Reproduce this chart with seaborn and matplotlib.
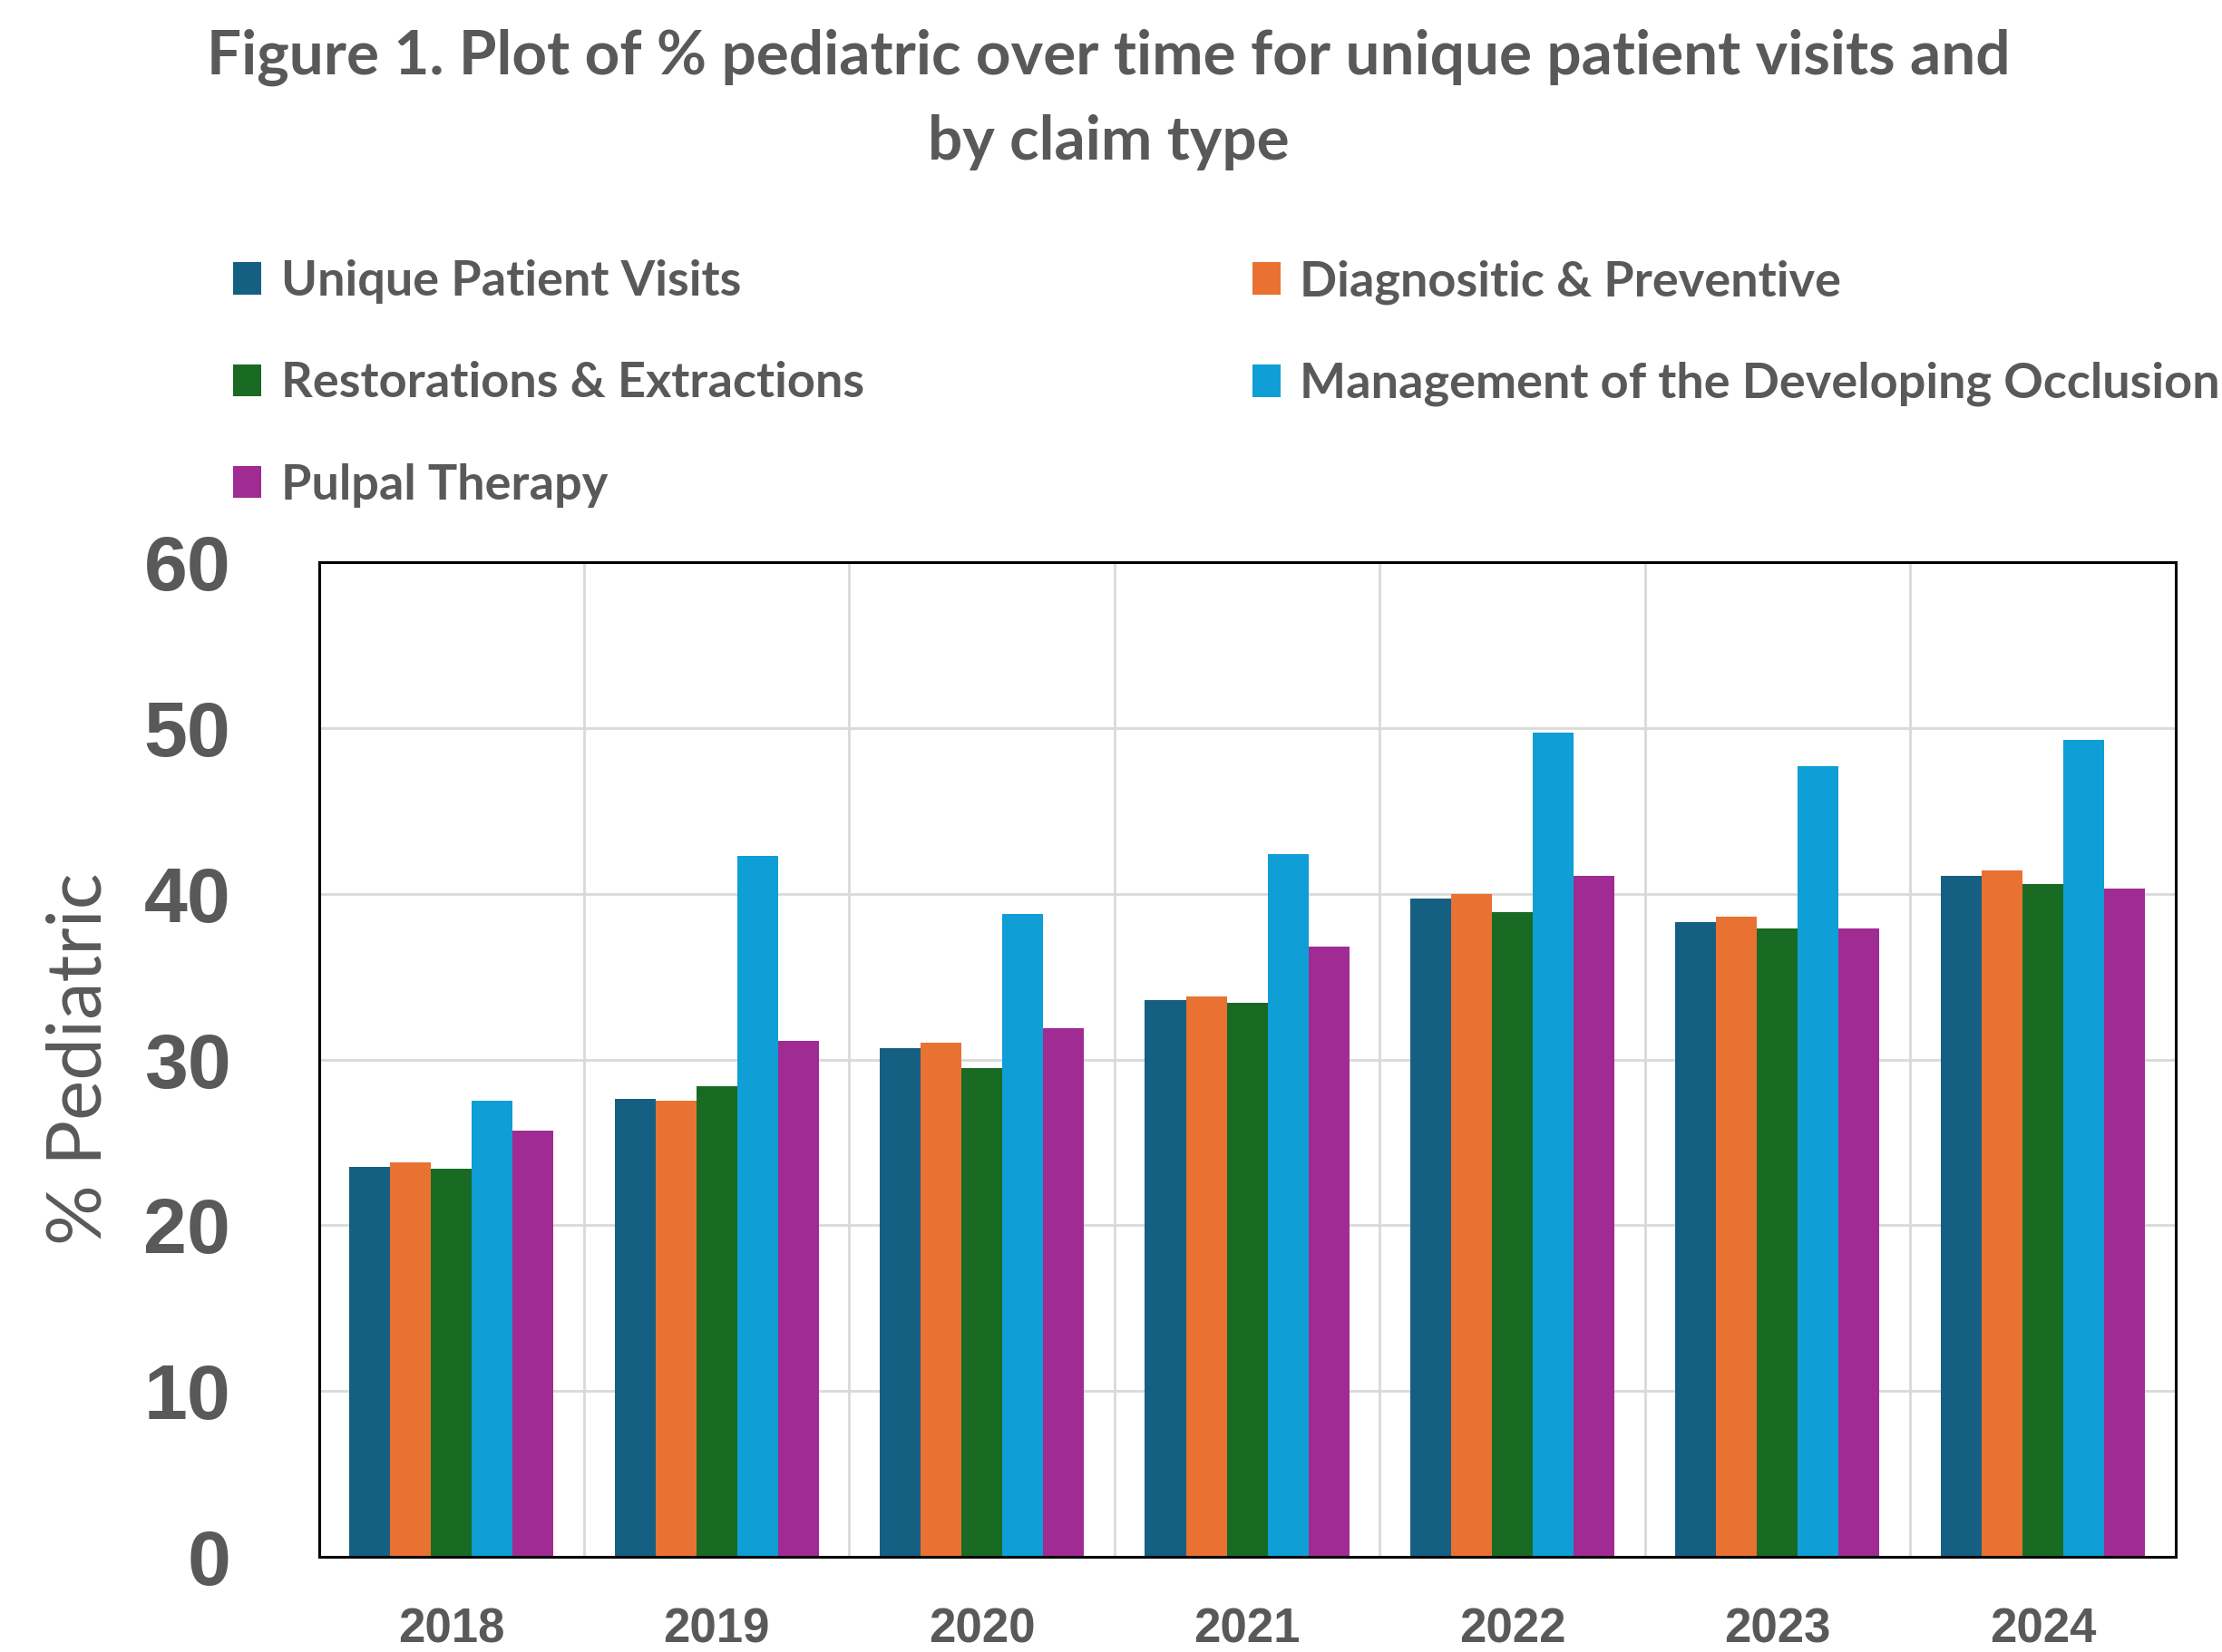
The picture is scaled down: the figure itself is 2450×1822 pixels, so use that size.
import numpy as np
import pandas as pd
import seaborn as sns
import matplotlib.pyplot as plt
from matplotlib.patches import Patch

# du lieu doc tu hinh
years = ["2018", "2019", "2020", "2021", "2022", "2023", "2024"]
unique_visits = [23.5, 27.6, 30.7, 33.6, 39.7, 38.3, 41.1]
diag_prev = [23.8, 27.5, 31.0, 33.8, 40.0, 38.6, 41.4]
restor_extr = [23.4, 28.4, 29.5, 33.4, 38.9, 37.9, 40.6]
occlusion = [27.5, 42.3, 38.8, 42.4, 49.7, 47.7, 49.3]
pulpal = [25.7, 31.1, 31.9, 36.8, 41.1, 37.9, 40.3]

series = ["Unique Patient Visits", "Diagnositic & Preventive",
          "Restorations & Extractions", "Management of the Developing Occlusion",
          "Pulpal Therapy"]
colors = ["#156082", "#E97132", "#196B24", "#0F9ED5", "#A02B93"]

df = pd.DataFrame({
    "year": years * 5,
    "value": unique_visits + diag_prev + restor_extr + occlusion + pulpal,
    "series": [s for s in series for _ in years],
})

gray = "#595959"
narrow = ["Lato", "DejaVu Sans"]

sns.set_style("white")
fig = plt.figure(figsize=(24.5, 18.22), dpi=100)
ax = fig.add_axes([0.1435, 0.0576, 0.8355, 0.6021])

sns.barplot(data=df, x="year", y="value", hue="series", palette=colors,
            saturation=1, width=0.77, linewidth=0, ax=ax, legend=False)

ax.set_ylim(0, 60)
ax.set_xlim(-0.5, 6.5)
ax.set_yticks(range(0, 61, 10))
ax.set_xticks(range(len(years)))
ax.set_xticks(np.arange(0.5, 6.5, 1), minor=True)
ax.grid(axis="y", which="major", color="#D9D9D9", linewidth=2)
ax.grid(axis="x", which="minor", color="#D9D9D9", linewidth=2)
ax.set_axisbelow(True)
ax.tick_params(axis="both", which="both", length=0)
ax.tick_params(axis="y", pad=70)
ax.tick_params(axis="x", pad=40)
for lab in ax.get_yticklabels():
    lab.set_fontsize(62)
    lab.set_fontweight("bold")
    lab.set_color(gray)
    lab.set_family(["Liberation Sans", "DejaVu Sans"])
for lab in ax.get_xticklabels():
    lab.set_fontsize(38)
    lab.set_fontweight("bold")
    lab.set_color(gray)
    lab.set_family(["Liberation Sans", "DejaVu Sans"])
for sp in ax.spines.values():
    sp.set_visible(True)
    sp.set_color("black")
    sp.set_linewidth(2.2)

ax.set_xlabel("")
ax.set_ylabel("")
fig.text(0.036, 0.359, "% Pediatric", rotation=90, ha="center", va="center",
         fontsize=60, color=gray, family=narrow)

fig.text(0.499, 0.965, "Figure 1. Plot of % pediatric over time for unique patient visits and",
         ha="center", va="center", fontsize=48.5, fontweight="bold", color=gray, family=narrow)
fig.text(0.499, 0.914, "by claim type",
         ha="center", va="center", fontsize=48.5, fontweight="bold", color=gray, family=narrow)

# legend: thu tu theo hang
order = [0, 2, 4, 1, 3]
handles = [Patch(facecolor=colors[i], edgecolor="none") for i in order]
labels = [series[i] for i in order]
fig.legend(handles, labels, ncol=2, loc="upper left", bbox_to_anchor=(0.105, 0.843),
           frameon=False, borderpad=0, borderaxespad=0,
           handlelength=0.57, handleheight=0.63, handletextpad=0.4,
           columnspacing=7.9, labelspacing=1.17,
           prop={"family": narrow, "weight": "bold", "size": 39}, labelcolor=gray)

fig.savefig("out.png", dpi=100)
